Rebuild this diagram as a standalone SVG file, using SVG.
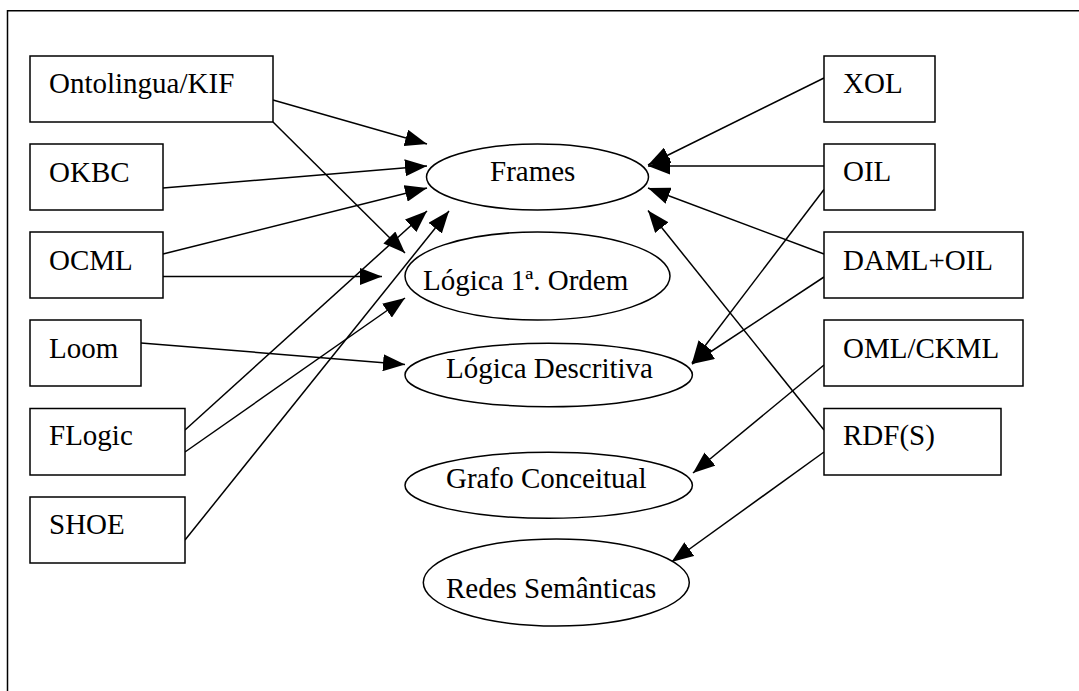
<svg xmlns="http://www.w3.org/2000/svg" width="1079" height="691" viewBox="0 0 1079 691">
<style>
.box{fill:#fff;stroke:#000;stroke-width:1.5}
.ell{fill:#fff;stroke:#000;stroke-width:1.5}
.t{font-family:"Liberation Serif","Times New Roman",serif;font-size:29px;fill:#000}
.c line{stroke:#000;stroke-width:1.5;fill:none;marker-end:url(#ah)}
</style>
<defs>
<marker id="ah" viewBox="0 0 22 17" refX="22" refY="8.5" markerWidth="22" markerHeight="17" markerUnits="userSpaceOnUse" orient="auto">
<path d="M0,0 L22,8.5 L0,17 z" fill="#000"/>
</marker>
</defs>
<rect width="1079" height="691" fill="#fff"/>
<path d="M7.5,691 V10.7 H1079" fill="none" stroke="#000" stroke-width="1.5"/>
<g class="c" id="connectors">
<line x1="273" y1="100" x2="427" y2="144"/>
<line x1="273" y1="122" x2="405" y2="253"/>
<line x1="163" y1="188" x2="427" y2="166"/>
<line x1="163" y1="254" x2="427" y2="188"/>
<line x1="163" y1="276.5" x2="382" y2="276.5"/>
<line x1="141" y1="343" x2="405" y2="364.5"/>
<line x1="185" y1="430" x2="427" y2="211"/>
<line x1="185" y1="452" x2="405" y2="298"/>
<line x1="185" y1="540" x2="449" y2="211"/>
<line x1="824" y1="78" x2="648" y2="165"/>
<line x1="824" y1="166" x2="648" y2="166"/>
<line x1="824" y1="189.5" x2="692" y2="363"/>
<line x1="824" y1="254" x2="648" y2="188"/>
<line x1="824" y1="277" x2="692" y2="364"/>
<line x1="824" y1="430" x2="648" y2="210.5"/>
<line x1="824" y1="365" x2="693" y2="473"/>
<line x1="824" y1="452" x2="671.5" y2="562"/>
</g>
<g id="ontolingua"><rect class="box" x="30" y="56" width="243" height="66"/><text class="t" x="49" y="93">Ontolingua/KIF</text></g>
<g id="okbc"><rect class="box" x="30" y="144" width="133" height="66"/><text class="t" x="49" y="181.5">OKBC</text></g>
<g id="ocml"><rect class="box" x="30" y="232" width="133" height="66"/><text class="t" x="49" y="269.5">OCML</text></g>
<g id="loom"><rect class="box" x="30" y="320" width="111" height="66"/><text class="t" x="49" y="357.5">Loom</text></g>
<g id="flogic"><rect class="box" x="30" y="408.5" width="155" height="66.5"/><text class="t" x="49" y="445">FLogic</text></g>
<g id="shoe"><rect class="box" x="30" y="497" width="155" height="66"/><text class="t" x="49" y="533.5">SHOE</text></g>
<g id="xol"><rect class="box" x="824" y="56" width="111" height="66"/><text class="t" x="843" y="93">XOL</text></g>
<g id="oil"><rect class="box" x="824" y="144" width="111" height="66"/><text class="t" x="843" y="181">OIL</text></g>
<g id="daml"><rect class="box" x="824" y="232" width="199" height="66"/><text class="t" x="843" y="269.5">DAML+OIL</text></g>
<g id="oml"><rect class="box" x="824" y="320" width="199" height="66"/><text class="t" x="843" y="357.5">OML/CKML</text></g>
<g id="rdf"><rect class="box" x="824" y="408.5" width="177" height="66.5"/><text class="t" x="843" y="445">RDF(S)</text></g>
<g id="frames"><ellipse class="ell" cx="537.5" cy="177" rx="111" ry="33"/><text class="t" x="490" y="180.5">Frames</text></g>
<g id="logica1"><ellipse class="ell" cx="537.5" cy="276" rx="132.5" ry="44"/><text class="t" x="423" y="290">Lógica 1ª. Ordem</text></g>
<g id="logicad"><ellipse class="ell" cx="548.7" cy="375" rx="143.7" ry="31.7"/><text class="t" x="446" y="378.3">Lógica Descritiva</text></g>
<g id="grafo"><ellipse class="ell" cx="548.7" cy="485.3" rx="143.7" ry="33"/><text class="t" x="446" y="488.3">Grafo Conceitual</text></g>
<g id="redes"><ellipse class="ell" cx="556.3" cy="582.5" rx="133" ry="43.5"/><text class="t" x="446" y="598.3">Redes Semânticas</text></g>
</svg>
